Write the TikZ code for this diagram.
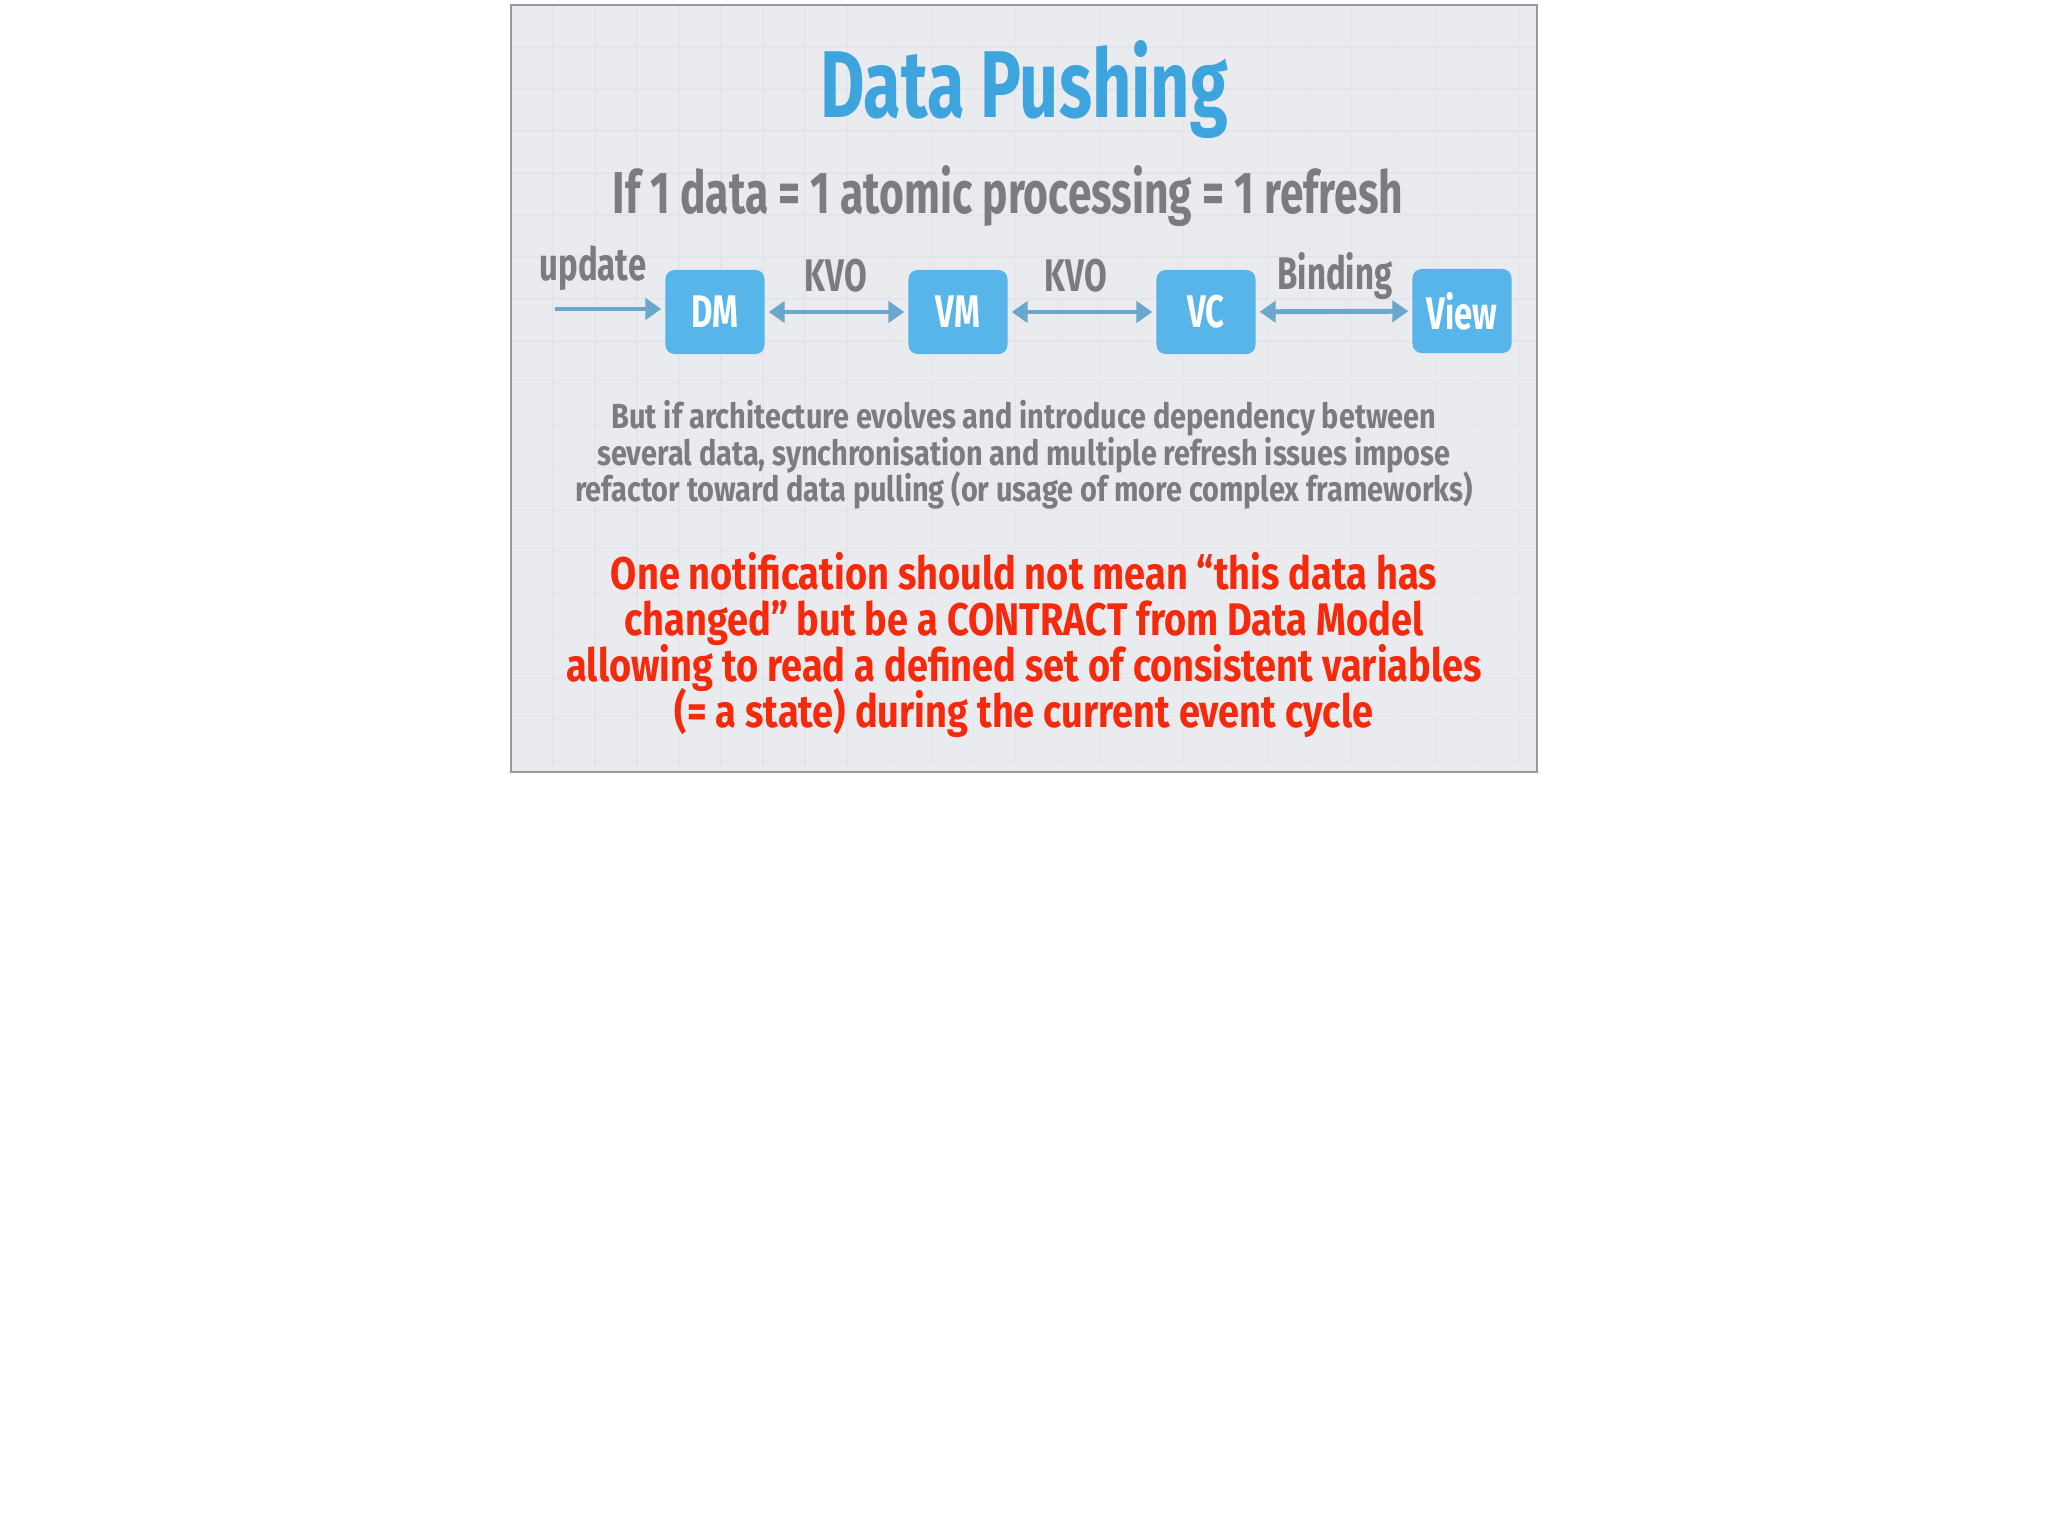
\documentclass[tikz,border=0pt]{standalone}
\usepackage{fontspec}
\usepackage{xcolor}
\usepackage{tikz}
\usetikzlibrary{arrows}
\usetikzlibrary{arrows.meta}
\usetikzlibrary{positioning}
\newfontfamily\handfont[FakeStretch=0.72]{Fira Sans}
\newfontfamily\widefont[FakeStretch=0.83]{Fira Sans}
\newcommand\tightlines{\lineskiplimit=-20pt\relax}
\definecolor{slidebg}{HTML}{E9EBEE}
\definecolor{slidegrid}{HTML}{E2E5E9}
\definecolor{titleblue}{HTML}{3EA4DE}
\definecolor{boxblue}{HTML}{58B5EA}
\definecolor{linkblue}{HTML}{6BA6CC}
\definecolor{textgray}{HTML}{7B7B80}
\definecolor{alertred}{HTML}{F52A0C}
\tikzset{
    box/.style={draw=none, fill=boxblue, rounded corners=2.6pt, minimum width=0.99cm,
        minimum height=0.84cm, text=white, font=\handfont\bfseries\fontsize{13}{14}\selectfont},
    linklabel/.style={text=textgray, font=\handfont\bfseries\fontsize{13}{14}\selectfont},
    link/.style={draw=linkblue, line width=1.4pt,
        {Triangle[length=4.5pt,width=6pt]}-{Triangle[length=4.5pt,width=6pt]}, shorten <=1pt, shorten >=1pt},
    feed/.style={draw=linkblue, line width=1.4pt, -{Triangle[length=4.5pt,width=6pt]}, shorten >=1pt},
    para/.style 2 args={align=center,
        font=\widefont\bfseries\fontsize{#1}{#2}\selectfont\tightlines},
}
\begin{document}
\begin{tikzpicture}[x=0.01cm, y=-0.01cm]
	\useasboundingbox[fill=white] (0,0) rectangle (2048,1527);
	% slide
	\fill[slidebg] (511,5) rectangle (1537,772);
	\draw[slidegrid, line width=0.4pt, step=0.42cm, shift={(511,5)}] (0,0) grid (1026,767);
	\draw[gray!80, line width=0.6pt] (511,5) rectangle (1537,772);
	% headings
	\node[anchor=base, text=titleblue, font=\handfont\bfseries\fontsize{27}{30}\selectfont] (title) at (1024,117) {Data Pushing};
	\node[anchor=base, text=textgray, font=\handfont\bfseries\fontsize{16.8}{18}\selectfont] (claim) at (1008,213) {If 1 data = 1 atomic processing = 1 refresh};
	% chain
	\node[box] (dm) at (715,312) {DM};
	\node[box] (vm) at (958,312) {VM};
	\node[box] (vc) at (1206,312) {VC};
	\node[box] (view) at (1462,311) {View};
	\coordinate (src) at (555,309);
	\draw[feed] (src) -- (src -| dm.west);
	\draw[link] (dm) -- (vm);
	\draw[link] (vm) -- (vc);
	\draw[link] (vc) -- (view);
	\node[linklabel] (upd) at (593,268) {update};
	\node[linklabel] (kvoa) at (836,276) {KVO};
	\node[linklabel] (kvob) at (1076,276) {KVO};
	\node[linklabel] (bind) at (1335,276) {Binding};
	% remarks
	\node[para={9.9}{10.4}, text=textgray] (but) at (1024,455)
		{But if architecture evolves and introduce dependency between\\
		 several data, synchronisation and multiple refresh issues impose\\
		 refactor toward data pulling (or usage of more complex frameworks)};
	\node[para={13}{13.1}, text=alertred] (contract) at (1024,645)
		{One notification should not mean “this data has\\
		 changed” but be a CONTRACT from Data Model\\
		 allowing to read a defined set of consistent variables\\
		 (= a state) during the current event cycle};
\end{tikzpicture}
\end{document}
